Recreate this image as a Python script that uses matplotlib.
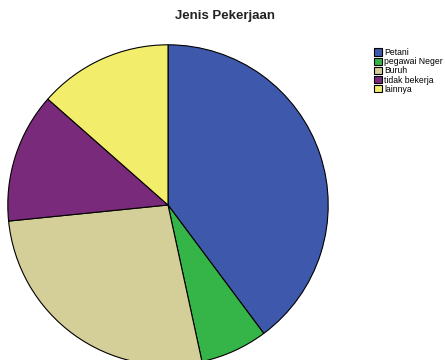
import matplotlib.pyplot as plt

# Jenis Pekerjaan shares (percent)
labels = ["Petani", "pegawai Neger", "Buruh", "tidak bekerja", "lainnya"]
values = [39.8, 6.8, 26.8, 13.1, 13.5]
colors = ["#3E58AC", "#35B548", "#D4CE98", "#7A2A7A", "#F2EE6C"]

plt.rcParams["font.family"] = ["Liberation Sans", "DejaVu Sans"]

fig = plt.figure(figsize=(4.45, 3.6), dpi=100)
fig.patch.set_facecolor("white")

ax = fig.add_axes([7 / 445, 1 - 366 / 360, 322 / 445, 322 / 360])
wedges, _ = ax.pie(values, colors=colors, startangle=90, counterclock=False,
                   radius=1, wedgeprops={"edgecolor": "black", "linewidth": 0.8})
ax.set_xlim(-1.005, 1.005)
ax.set_ylim(-1.005, 1.005)
ax.set_aspect("equal")
ax.axis("off")

fig.text(225 / 445, 1 - 16 / 360, "Jenis Pekerjaan", ha="center", va="center",
         fontsize=9.5, fontweight="bold", color="#222222")

leg = fig.legend(wedges, labels, loc="upper left",
                 bbox_to_anchor=(374 / 445, 1 - 48 / 360),
                 frameon=False, fontsize=6.2, handlelength=0.9, handleheight=0.9,
                 handletextpad=0.3, labelspacing=0.02, borderpad=0, borderaxespad=0)

fig.savefig("out.png", dpi=100)
